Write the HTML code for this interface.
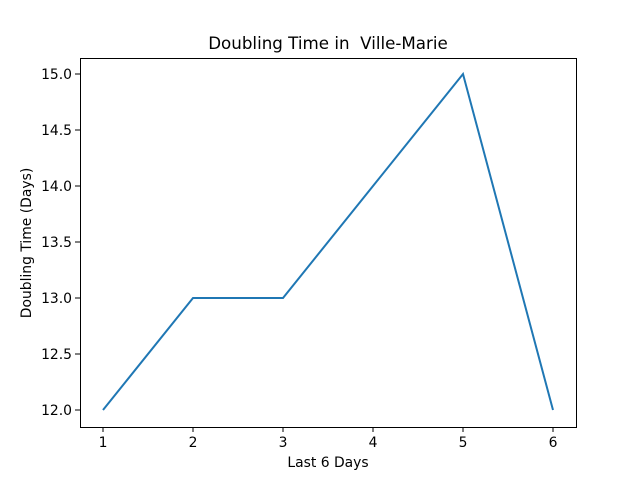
<!DOCTYPE html>
<html><head><meta charset="utf-8"><style>
body{margin:0;background:#fff;}
svg{display:block;font-family:"DejaVu Sans","Liberation Sans",sans-serif;}
text{white-space:pre;}
</style></head><body>
<svg id="chart" width="640" height="480">
<rect width="640" height="480" fill="#fff"/>
<text x="328" y="49" font-size="16.7" text-anchor="middle" xml:space="preserve">Doubling Time in  Ville-Marie</text>
<text x="328" y="467" font-size="13.9" text-anchor="middle">Last 6 Days</text>
<text transform="translate(31,243) rotate(-90)" font-size="13.9" text-anchor="middle">Doubling Time (Days)</text>
<g id="ticks"></g>
<polyline id="line" fill="none" stroke="#1f77b4" stroke-width="2"/>
<rect x="80.5" y="58.5" width="496" height="369" fill="none" stroke="#000" stroke-width="1"/>
</svg>
<script>
const days=[1,2,3,4,5,6];
const values=[12,13,13,14,15,12];
const yTicks=[12.0,12.5,13.0,13.5,14.0,14.5,15.0];
const xTicks=[1,2,3,4,5,6];
const sx=v=>103+(v-1)*90;
const sy=v=>410-(v-12)*112;
const ns="http://www.w3.org/2000/svg";
const g=document.getElementById('ticks');
function mk(t,a){const e=document.createElementNS(ns,t);for(const k in a)e.setAttribute(k,a[k]);g.appendChild(e);return e;}
xTicks.forEach(v=>{
 const l=mk('line',{x1:sx(v),x2:sx(v),y1:427,y2:432,stroke:'#000','stroke-width':1});
 
 
 const t=mk('text',{x:sx(v),y:447,'font-size':13.9,'text-anchor':'middle'});t.textContent=v;
 
 
});
yTicks.forEach(v=>{
 const l=mk('line',{x1:75,x2:80,y1:sy(v),y2:sy(v),stroke:'#000','stroke-width':1});
 
 
 const t=mk('text',{x:72,y:sy(v)+5,'font-size':13.9,'text-anchor':'end'});t.textContent=v.toFixed(1);
 
 
});
document.getElementById('line').setAttribute('points',days.map((d,i)=>sx(d)+','+sy(values[i])).join(' '));
</script>
</body></html>
